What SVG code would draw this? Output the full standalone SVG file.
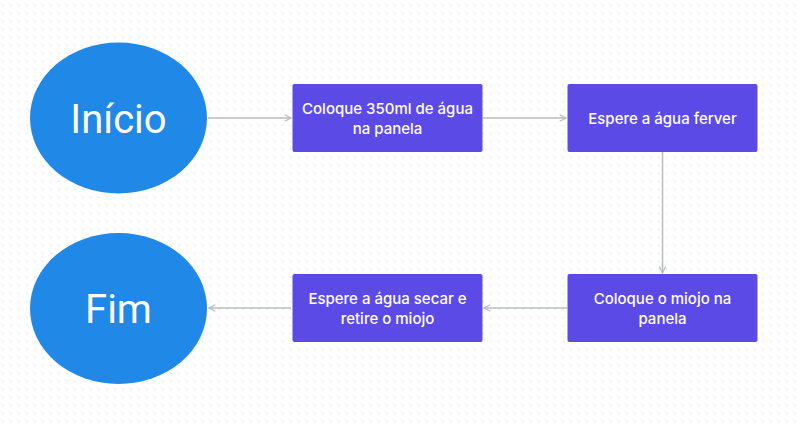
<svg xmlns="http://www.w3.org/2000/svg" width="800" height="425" viewBox="0 0 800 425">
<defs>
<pattern id="dots" x="0" y="0" width="8" height="8" patternUnits="userSpaceOnUse">
<rect x="2.3" y="4.8" width="1.2" height="1.2" fill="#dcdcdc"/>
</pattern>
<marker id="arr" viewBox="0 0 10 10" refX="9" refY="5" markerWidth="8" markerHeight="8" markerUnits="userSpaceOnUse" orient="auto">
<path d="M1,1 L9,5 L1,9" fill="none" stroke="#b9bdc3" stroke-width="1.6"/>
</marker>
</defs>
<style>
.ell{fill:#2088e6}
.box{fill:#5c4ae6}
.et{font-family:Roboto,"Liberation Sans",sans-serif;font-size:40px;fill:#ffffff;text-anchor:middle}
.bt{font-family:Inter,"Noto Sans",sans-serif;font-size:15px;font-weight:500;fill:#ffffff;text-anchor:middle}
.con{fill:none;stroke:#b9bdc3;stroke-width:1.6;marker-end:url(#arr)}
</style>
<rect width="800" height="425" fill="#ffffff"/>
<rect width="800" height="425" fill="url(#dots)"/>
<g id="connectors">
<path class="con" d="M208,118 L291,118"/>
<path class="con" d="M483,118 L566,118"/>
<path class="con" d="M662.5,152 L662.5,273"/>
<path class="con" d="M567,308 L484,308"/>
<path class="con" d="M291,308 L209,308"/>
</g>
<g id="inicio">
<ellipse class="ell" cx="118.5" cy="118" rx="88.5" ry="75.5"/>
<text class="et" x="118.5" y="133">Início</text>
</g>
<g id="fim">
<ellipse class="ell" cx="118.5" cy="308.5" rx="88.5" ry="75.5"/>
<text class="et" x="118.5" y="323">Fim</text>
</g>
<g id="box1">
<rect class="box" x="292.5" y="84" width="190" height="68" rx="2"/>
<text class="bt" x="387.5" y="114">Coloque 350ml de água</text>
<text class="bt" x="387.5" y="134">na panela</text>
</g>
<g id="box2">
<rect class="box" x="567.5" y="84" width="190" height="68" rx="2"/>
<text class="bt" x="662.5" y="124">Espere a água ferver</text>
</g>
<g id="box3">
<rect class="box" x="567.5" y="274" width="190" height="68" rx="2"/>
<text class="bt" x="662.5" y="304">Coloque o miojo na</text>
<text class="bt" x="662.5" y="324">panela</text>
</g>
<g id="box4">
<rect class="box" x="292.5" y="274" width="190" height="68" rx="2"/>
<text class="bt" x="387.5" y="304">Espere a água secar e</text>
<text class="bt" x="387.5" y="324">retire o miojo</text>
</g>
</svg>
